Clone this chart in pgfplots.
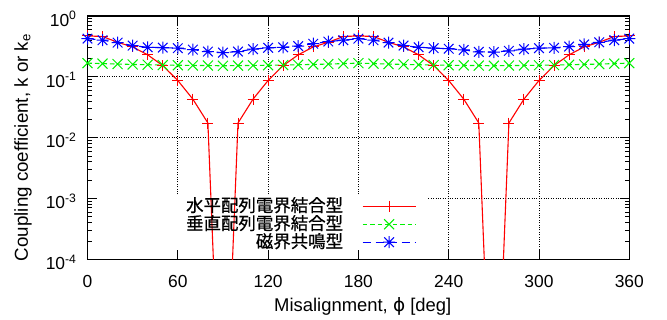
\documentclass[border=0pt]{standalone}
\usepackage{fontspec}
\setmainfont{Liberation Sans}
\newfontfamily\cjk[FakeBold=0.6]{Noto Sans CJK JP}
\newfontfamily\djv{DejaVu Sans}
\usepackage{pgfplots}
\pgfplotsset{compat=1.18}
\definecolor{gpred}{RGB}{255,0,0}
\definecolor{gpgreen}{RGB}{0,240,0}
\definecolor{gpblue}{RGB}{0,0,255}
\pgfdeclareplotmark{gpstar}{%
  \pgfpathmoveto{\pgfqpoint{-\pgfplotmarksize}{0pt}}\pgfpathlineto{\pgfqpoint{\pgfplotmarksize}{0pt}}%
  \pgfpathmoveto{\pgfqpoint{0pt}{-\pgfplotmarksize}}\pgfpathlineto{\pgfqpoint{0pt}{\pgfplotmarksize}}%
  \pgfpathmoveto{\pgfqpoint{-.8\pgfplotmarksize}{-.8\pgfplotmarksize}}\pgfpathlineto{\pgfqpoint{.8\pgfplotmarksize}{.8\pgfplotmarksize}}%
  \pgfpathmoveto{\pgfqpoint{-.8\pgfplotmarksize}{.8\pgfplotmarksize}}\pgfpathlineto{\pgfqpoint{.8\pgfplotmarksize}{-.8\pgfplotmarksize}}%
  \pgfusepathqstroke}
\pgfdeclareplotmark{gpx}{%
  \pgfpathmoveto{\pgfqpoint{-\pgfplotmarksize}{-\pgfplotmarksize}}\pgfpathlineto{\pgfqpoint{\pgfplotmarksize}{\pgfplotmarksize}}%
  \pgfpathmoveto{\pgfqpoint{-\pgfplotmarksize}{\pgfplotmarksize}}\pgfpathlineto{\pgfqpoint{\pgfplotmarksize}{-\pgfplotmarksize}}%
  \pgfusepathqstroke}
\pgfplotsset{
  layers/mylayers/.define layer set={
    axis background,axis grid,mywhite,axis ticks,axis lines,axis tick labels,
    pre main,main,axis descriptions,axis foreground
  }{
    grid style={/pgfplots/on layer=axis grid},
    tick style={/pgfplots/on layer=axis ticks},
    axis line style={/pgfplots/on layer=axis lines},
    label style={/pgfplots/on layer=axis descriptions},
    legend style={/pgfplots/on layer=axis descriptions},
    title style={/pgfplots/on layer=axis descriptions},
    colorbar style={/pgfplots/on layer=axis descriptions},
    ticklabel style={/pgfplots/on layer=axis tick labels},
    axis background@ style={/pgfplots/on layer=axis background},
    3d box foreground style={/pgfplots/on layer=axis foreground},
  },
}
\pgfplotstableread{
x red green blue
0   0.47   0.168 0.425
10  0.46   0.165 0.40
20  0.37   0.162 0.365
30  0.31   0.160 0.326
40  0.23   0.158 0.306
50  0.153  0.156 0.302
60  0.087  0.155 0.296
70  0.043  0.154 0.28
80  0.0174 0.153 0.26
90  1.2e-8 0.152 0.25
100 0.0174 0.153 0.26
110 0.043  0.154 0.285
120 0.087  0.155 0.30
130 0.153  0.156 0.306
140 0.23   0.158 0.32
150 0.31   0.160 0.35
160 0.37   0.162 0.38
170 0.46   0.165 0.40
180 0.47   0.168 0.425
190 0.46   0.165 0.40
200 0.37   0.162 0.365
210 0.31   0.160 0.326
220 0.23   0.158 0.306
230 0.153  0.156 0.296
240 0.087  0.155 0.29
250 0.043  0.154 0.277
260 0.0174 0.153 0.257
270 1.2e-8 0.152 0.255
280 0.0174 0.153 0.267
290 0.043  0.154 0.285
300 0.087  0.155 0.296
310 0.153  0.156 0.30
320 0.23   0.158 0.315
330 0.31   0.160 0.34
340 0.37   0.162 0.37
350 0.46   0.165 0.40
360 0.47   0.168 0.425
}\datatable
\begin{document}
\begin{tikzpicture}
\begin{axis}[
  set layers=mylayers,
  scale only axis,
  width=541.8bp, height=243.3bp,
  at={(0,0)}, anchor=south west,
  xmin=0, xmax=360, ymode=log, ymin=1e-4, ymax=1,
  xtick={0,60,...,360},
  xticklabels={0,60,120,180,240,300,360},
  ytick={1e-4,1e-3,1e-2,1e-1,1},
  yticklabels={10\textsuperscript{-4},10\textsuperscript{-3},10\textsuperscript{-2},10\textsuperscript{-1},10\textsuperscript{0}},
  tick align=inside,
  major tick length=9bp, minor tick length=4.5bp,
  every tick/.style={black, line width=0.9bp},
  axis line style={black, line width=1.2bp},
  grid=major,
  major grid style={black, line width=0.7bp, dash pattern=on 1bp off 1.4bp},
  xticklabel style={font=\fontsize{17.5}{20}\selectfont, anchor=base, inner sep=0pt, yshift=-28bp},
  yticklabel style={font=\fontsize{17.5}{20}\selectfont, anchor=base east, inner sep=0pt, xshift=-10.8bp, yshift=-10.2bp},
  xlabel={Misalignment, {\djv ϕ} [deg]},
  ylabel={Coupling coefficient, k or k\textsubscript{e}},
  every axis x label/.style={at={(rel axis cs:0.508,0)}, anchor=base, yshift=-52.5bp, font=\fontsize{18.5}{20}\selectfont},
  every axis y label/.style={at={(rel axis cs:0,0.4595)}, xshift=-64.5bp, rotate=90, anchor=center, font=\fontsize{18.8}{20}\selectfont},
  legend plot pos=right,
  legend cell align=right,
  legend image code/.code={
    \draw[mark repeat=2, mark phase=2] plot coordinates {(0bp,0bp) (26.5bp,0bp) (53bp,0bp)};
  },
  legend style={at={(rel axis cs:0.607,0.256)}, anchor=north east, draw=none, fill=none,
    inner sep=0pt, font=\cjk\fontsize{17.5}{18}\selectfont,
    nodes={inner sep=0pt, text height=14.5bp, text depth=3.5bp},
    /tikz/column sep=19bp, /tikz/row sep=0bp},
]
\begin{pgfonlayer}{mywhite}
\fill[white] (rel axis cs:0,0) rectangle (rel axis cs:0.626,0.264);
\end{pgfonlayer}
\addplot[gpred, line width=1.1bp, mark=+, mark size=5.5bp, mark options={solid, line width=1bp}] table[x=x, y=red] {\datatable};
\addlegendentry{水平配列電界結合型}
\addplot[gpgreen, line width=1.1bp, dash pattern=on 4.5bp off 3bp, mark=gpx, mark size=5bp, mark options={solid, line width=1bp}] table[x=x, y=green] {\datatable};
\addlegendentry{垂直配列電界結合型}
\addplot[gpblue, line width=1.1bp, dash pattern=on 8bp off 5bp, mark=gpstar, mark size=6bp, mark options={solid, line width=1bp}] table[x=x, y=blue] {\datatable};
\addlegendentry{磁界共鳴型}
\end{axis}
\pgfresetboundingbox
\path (-87.5bp,-60.7bp) rectangle (579.5bp,259.3bp);
\end{tikzpicture}
\end{document}
